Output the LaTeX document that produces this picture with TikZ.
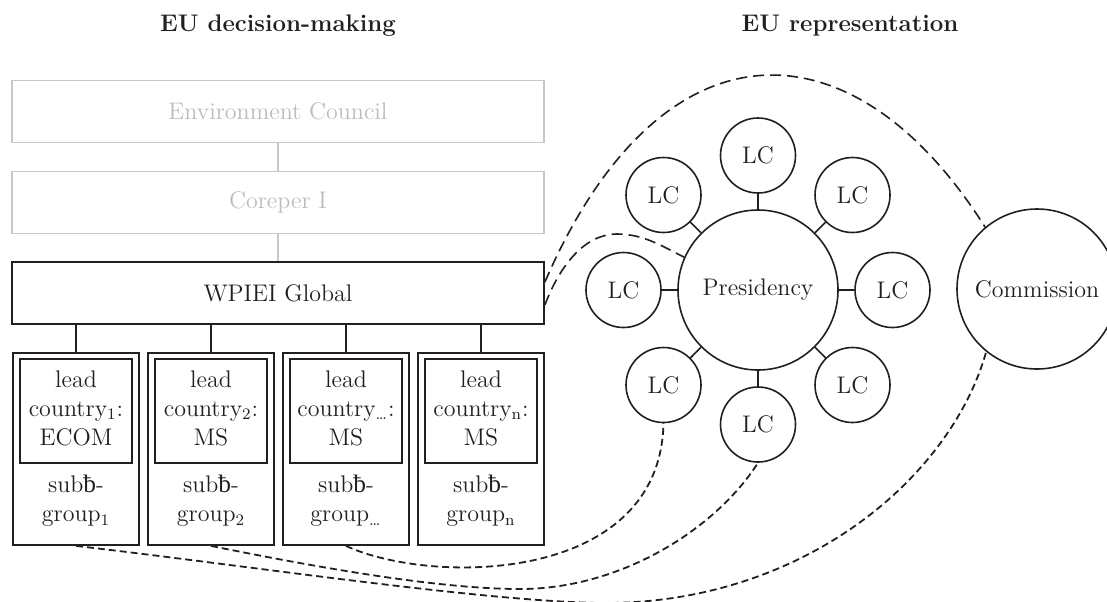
\documentclass[tikz,border=0pt]{standalone}
\usepackage{fontspec}
\newfontfamily\strokeface[Scale=1.05]{Liberation Serif}
\newcommand{\bbar}{{\strokeface ƀ}}
\definecolor{ink}{RGB}{35,31,32}
\definecolor{paleline}{RGB}{200,200,200}
\definecolor{paletext}{RGB}{188,188,188}
\begin{document}
\begin{tikzpicture}[x=0.5pt,y=-0.5pt,
  txt/.style={font=\fontsize{12}{14.5}\selectfont, text=ink, align=center, inner sep=0pt},
  headline/.style={font=\bfseries\fontsize{12}{14.5}\selectfont, text=ink, inner sep=0pt},
  levelbox/.style={rectangle, draw=ink, line width=0.9pt, minimum width=266pt, minimum height=31pt, inner sep=0pt, txt},
  palebox/.style={levelbox, draw=paleline, text=paletext},
  groupbox/.style={rectangle, draw=ink, line width=0.9pt, minimum width=63pt, minimum height=96pt, inner sep=0pt},
  leadbox/.style={rectangle, draw=ink, line width=0.9pt, minimum width=56pt, minimum height=52pt, inner sep=0pt},
  lcnode/.style={circle, draw=ink, line width=0.8pt, minimum size=37.5pt, inner sep=0pt, txt},
  bignode/.style={circle, draw=ink, line width=0.8pt, minimum size=80pt, inner sep=0pt, txt},
  link/.style={draw=ink, line width=0.8pt},
  palelink/.style={draw=paleline, line width=0.8pt},
  longdash/.style={draw=ink, line width=0.8pt, dash pattern=on 5.5pt off 3pt},
  shortdash/.style={draw=ink, line width=0.9pt, dash pattern=on 3.5pt off 2pt}]

\useasboundingbox (0,0) rectangle (1107,601);
\clip (0,0) rectangle (1107,601);

% column headings
\node[headline] (hdec) at (278,26) {EU decision-making};
\node[headline] (hrep) at (850,26) {EU representation};

% decision-making ladder
\node[palebox] (env) at (278,111.5) {Environment Council};
\node[palebox] (corep) at (278,202.5) {Coreper I};
\node[levelbox] (wpiei) at (278,293) {WPIEI Global};
\draw[palelink] (env) -- (corep);
\draw[palelink] (corep) -- (wpiei);

% sub-groups with their lead countries
\node[groupbox] (sg1) at (76,449) {};
\node[groupbox] (sg2) at (211,449) {};
\node[groupbox] (sg3) at (346,449) {};
\node[groupbox] (sg4) at (481,449) {};
\node[leadbox] (ld1) at (76,411) {};
\node[leadbox] (ld2) at (211,411) {};
\node[leadbox] (ld3) at (346,411) {};
\node[leadbox] (ld4) at (481,411) {};
\node[txt] (lt1) at (76,408) {lead\\country\textsubscript{1}:\\ECOM};
\node[txt] (lt2) at (211,408) {lead\\country\textsubscript{2}:\\MS};
\node[txt] (lt3) at (346,408) {lead\\country\textsubscript{\dots}:\\MS};
\node[txt] (lt4) at (481,408) {lead\\country\textsubscript{n}:\\MS};
\node[txt] (gt1) at (76,501) {sub\bbar-\\group\textsubscript{1}};
\node[txt] (gt2) at (211,501) {sub\bbar-\\group\textsubscript{2}};
\node[txt] (gt3) at (346,501) {sub\bbar-\\group\textsubscript{\dots}};
\node[txt] (gt4) at (481,501) {sub\bbar-\\group\textsubscript{n}};
\foreach \g in {sg1,sg2,sg3,sg4}
  \draw[link] (\g.north) -- (\g.north |- wpiei.south);

% representation: Presidency with lead countries, Commission
\node[bignode] (pres) at (758,290) {Presidency};
\node[bignode] (comm) at (1037,289) {Commission};
\node[lcnode] (lct)  at (758,155.5) {LC};
\node[lcnode] (lcur) at (852.5,195) {LC};
\node[lcnode] (lcr)  at (892.5,290) {LC};
\node[lcnode] (lclr) at (852.5,385) {LC};
\node[lcnode] (lcb)  at (758,424.5) {LC};
\node[lcnode] (lcll) at (663.5,385) {LC};
\node[lcnode] (lcl)  at (623.5,290) {LC};
\node[lcnode] (lcul) at (663.5,195) {LC};
\foreach \c in {lct,lcur,lcr,lclr,lcb,lcll,lcl,lcul}
  \draw[link] (pres) -- (\c);

% working group to Commission and Presidency
\draw[longdash] ([yshift=5.5pt]wpiei.east) .. controls (660,16) and (852,16) .. (comm.130);
\draw[longdash] ([yshift=-6pt]wpiei.east) .. controls (560,265) and (585,234) .. (617,234)
  .. controls (645,234) and (665,248) .. (pres.156);

% sub-groups to their representatives
\draw[shortdash] (sg1.south) .. controls (250,566) and (480,601) .. (600,603)
  .. controls (800,605) and (950,480) .. (comm.231);
\draw[shortdash] (sg2.south) .. controls (320,568) and (440,589) .. (520,589)
  .. controls (620,589) and (715,530) .. (lcb.south);
\draw[shortdash] (sg3.south) .. controls (430,585) and (660,585) .. (lcll.south);
\end{tikzpicture}
\end{document}
